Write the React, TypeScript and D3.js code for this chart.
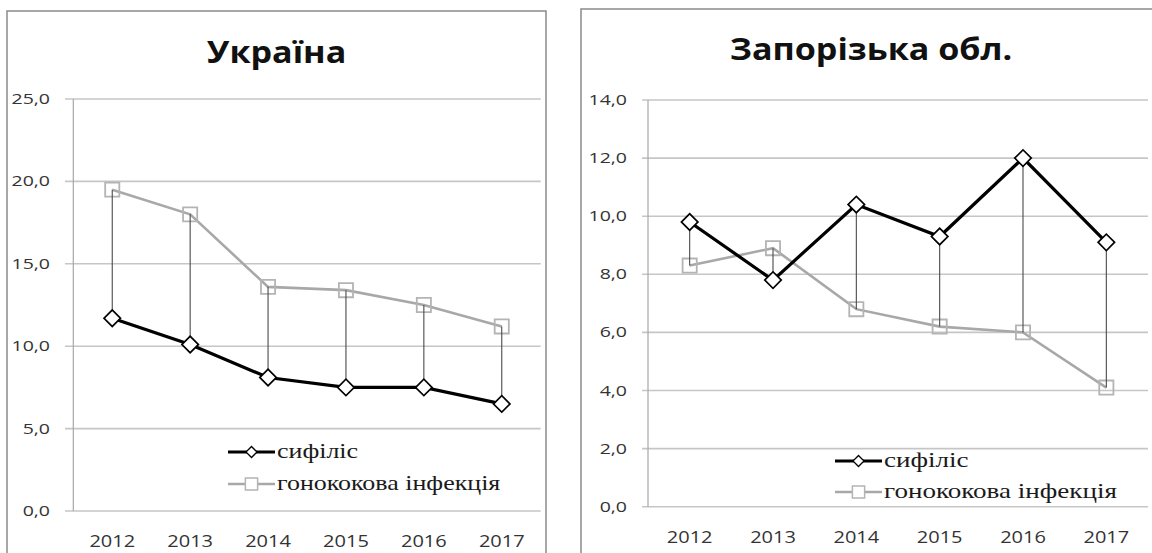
import React from 'react';
import * as d3 from 'd3';

const years = ['2012', '2013', '2014', '2015', '2016', '2017'];
const ukrSyphilis = [11.7, 10.1, 8.1, 7.5, 7.5, 6.5];
const ukrGonorrhea = [19.5, 18.0, 13.6, 13.4, 12.5, 11.2];
const zapSyphilis = [9.8, 7.8, 10.4, 9.3, 12.0, 9.1];
const zapGonorrhea = [8.3, 8.9, 6.8, 6.2, 6.0, 4.1];
const ukrTicks = [0, 5, 10, 15, 20, 25];
const zapTicks = [0, 2, 4, 6, 8, 10, 12, 14];
const seriesNames = ['сифіліс', 'гонококова інфекція'];
const titles = ['Україна', 'Запорізька обл.'];

const fmt = (v: number) => d3.format('.1f')(v).replace('.', ',');
const SANS = '"Open Sans", sans-serif';
const SERIF = '"Liberation Serif", serif';
const diamondPath = d3.symbol(d3.symbolSquare, 136)()!;
const squarePath = d3.symbol(d3.symbolSquare, 200)()!;

type PanelProps = {
  title: string;
  syph: number[];
  gono: number[];
  ticks: number[];
  box: { x: number; y: number; w: number; h: number };
  plot: { x0: number; x1: number; y0: number; y1: number };
  gridX0: number;
  titleY: number;
  legend: { x: number; y: number; dy: number };
  legendSx: number;
};

function ST({ x, y, sx, children, ...rest }: any) {
  return (
    <text transform={`translate(${x},${y}) scale(${sx},1)`} {...rest}>
      {children}
    </text>
  );
}

function Panel(p: PanelProps) {
  const max = p.ticks[p.ticks.length - 1];
  const x = d3.scaleBand<string>().domain(years).range([p.plot.x0, p.plot.x1]);
  const y = d3.scaleLinear().domain([0, max]).range([p.plot.y0, p.plot.y1]);
  const cx = (d: string) => (x(d) as number) + x.bandwidth() / 2;
  const line = d3
    .line<number>()
    .x((_, i) => cx(years[i]))
    .y((d) => y(d));
  return (
    <g>
      <rect x={p.box.x} y={p.box.y} width={p.box.w} height={p.box.h} fill="#fff" stroke="#8a8a8a" strokeWidth={1.5} />
      <ST x={(p.box.x * 2 + p.box.w) / 2} y={p.titleY} sx={1.1} textAnchor="middle" fontFamily={SANS} fontWeight={700} fontSize={31} fill="#111">
        {p.title}
      </ST>
      {p.ticks.map((t) => (
        <g key={t}>
          <line x1={p.gridX0} x2={p.plot.x1} y1={y(t)} y2={y(t)} stroke="#c6c6c6" strokeWidth={1.6} />
          <ST x={p.gridX0 - 15} y={y(t) + 5} sx={1.3} textAnchor="end" fontFamily={SANS} fontSize={15} fill="#333">
            {fmt(t)}
          </ST>
        </g>
      ))}
      <line x1={p.plot.x0} x2={p.plot.x0} y1={y(max)} y2={y(0)} stroke="#a8a8a8" strokeWidth={1.2} />
      {years.map((d) => (
        <ST key={d} x={cx(d)} y={y(0) + 36} sx={1.25} textAnchor="middle" fontFamily={SANS} fontSize={16} fill="#333">
          {d}
        </ST>
      ))}
      <path d={line(p.gono)!} fill="none" stroke="#a8a8a8" strokeWidth={2.6} />
      {p.gono.map((v, i) => (
        <path key={'s' + i} d={squarePath} transform={`translate(${cx(years[i])},${y(v)})`} fill="none" stroke="#b4b4b4" strokeWidth={1.8} />
      ))}
      {years.map((d, i) => (
        <line key={'hl' + d} x1={cx(d)} x2={cx(d)} y1={y(p.syph[i])} y2={y(p.gono[i])} stroke="#4a4a4a" strokeWidth={1.1} />
      ))}
      <path d={line(p.syph)!} fill="none" stroke="#000" strokeWidth={3.2} />
      {p.syph.map((v, i) => (
        <path key={'d' + i} d={diamondPath} transform={`translate(${cx(years[i])},${y(v)}) rotate(45)`} fill="#fff" stroke="#000" strokeWidth={1.7} />
      ))}
      <g>
        <line x1={p.legend.x} x2={p.legend.x + 47} y1={p.legend.y} y2={p.legend.y} stroke="#000" strokeWidth={3.2} />
        <path d={d3.symbol(d3.symbolSquare, 60)()!} transform={`translate(${p.legend.x + 23.5},${p.legend.y}) rotate(45)`} fill="#fff" stroke="#000" strokeWidth={1.3} />
        <ST x={p.legend.x + 49} y={p.legend.y + 6} sx={p.legendSx} fontFamily={SERIF} fontSize={22} fill="#1a1a1a">
          {seriesNames[0]}
        </ST>
        <line x1={p.legend.x} x2={p.legend.x + 47} y1={p.legend.y + p.legend.dy} y2={p.legend.y + p.legend.dy} stroke="#a8a8a8" strokeWidth={2.6} />
        <path d={d3.symbol(d3.symbolSquare, 150)()!} transform={`translate(${p.legend.x + 23.5},${p.legend.y + p.legend.dy})`} fill="#fff" stroke="#b4b4b4" strokeWidth={1.5} />
        <ST x={p.legend.x + 49} y={p.legend.y + p.legend.dy + 6} sx={p.legendSx} fontFamily={SERIF} fontSize={22} fill="#1a1a1a">
          {seriesNames[1]}
        </ST>
      </g>
    </g>
  );
}

export default function App() {
  return (
    <svg width={1152} height={553} style={{ position: 'absolute', left: 0, top: 0, background: '#fff' }}>
      <rect x={0} y={0} width={1152} height={553} fill="#fff" />
      <Panel
        title={titles[0]}
        syph={ukrSyphilis}
        gono={ukrGonorrhea}
        ticks={ukrTicks}
        box={{ x: 7, y: 11, w: 539, h: 560 }}
        plot={{ x0: 73.3, x1: 540.7, y0: 511, y1: 99 }}
        gridX0={65}
        titleY={63}
        legend={{ x: 228, y: 452, dy: 32 }}
        legendSx={1.18}
      />
      <Panel
        title={titles[1]}
        syph={zapSyphilis}
        gono={zapGonorrhea}
        ticks={zapTicks}
        box={{ x: 581, y: 9, w: 580, h: 560 }}
        plot={{ x0: 648, x1: 1148, y0: 506.7, y1: 100 }}
        gridX0={642}
        titleY={60}
        legend={{ x: 835, y: 461, dy: 31 }}
        legendSx={1.23}
      />
    </svg>
  );
}
